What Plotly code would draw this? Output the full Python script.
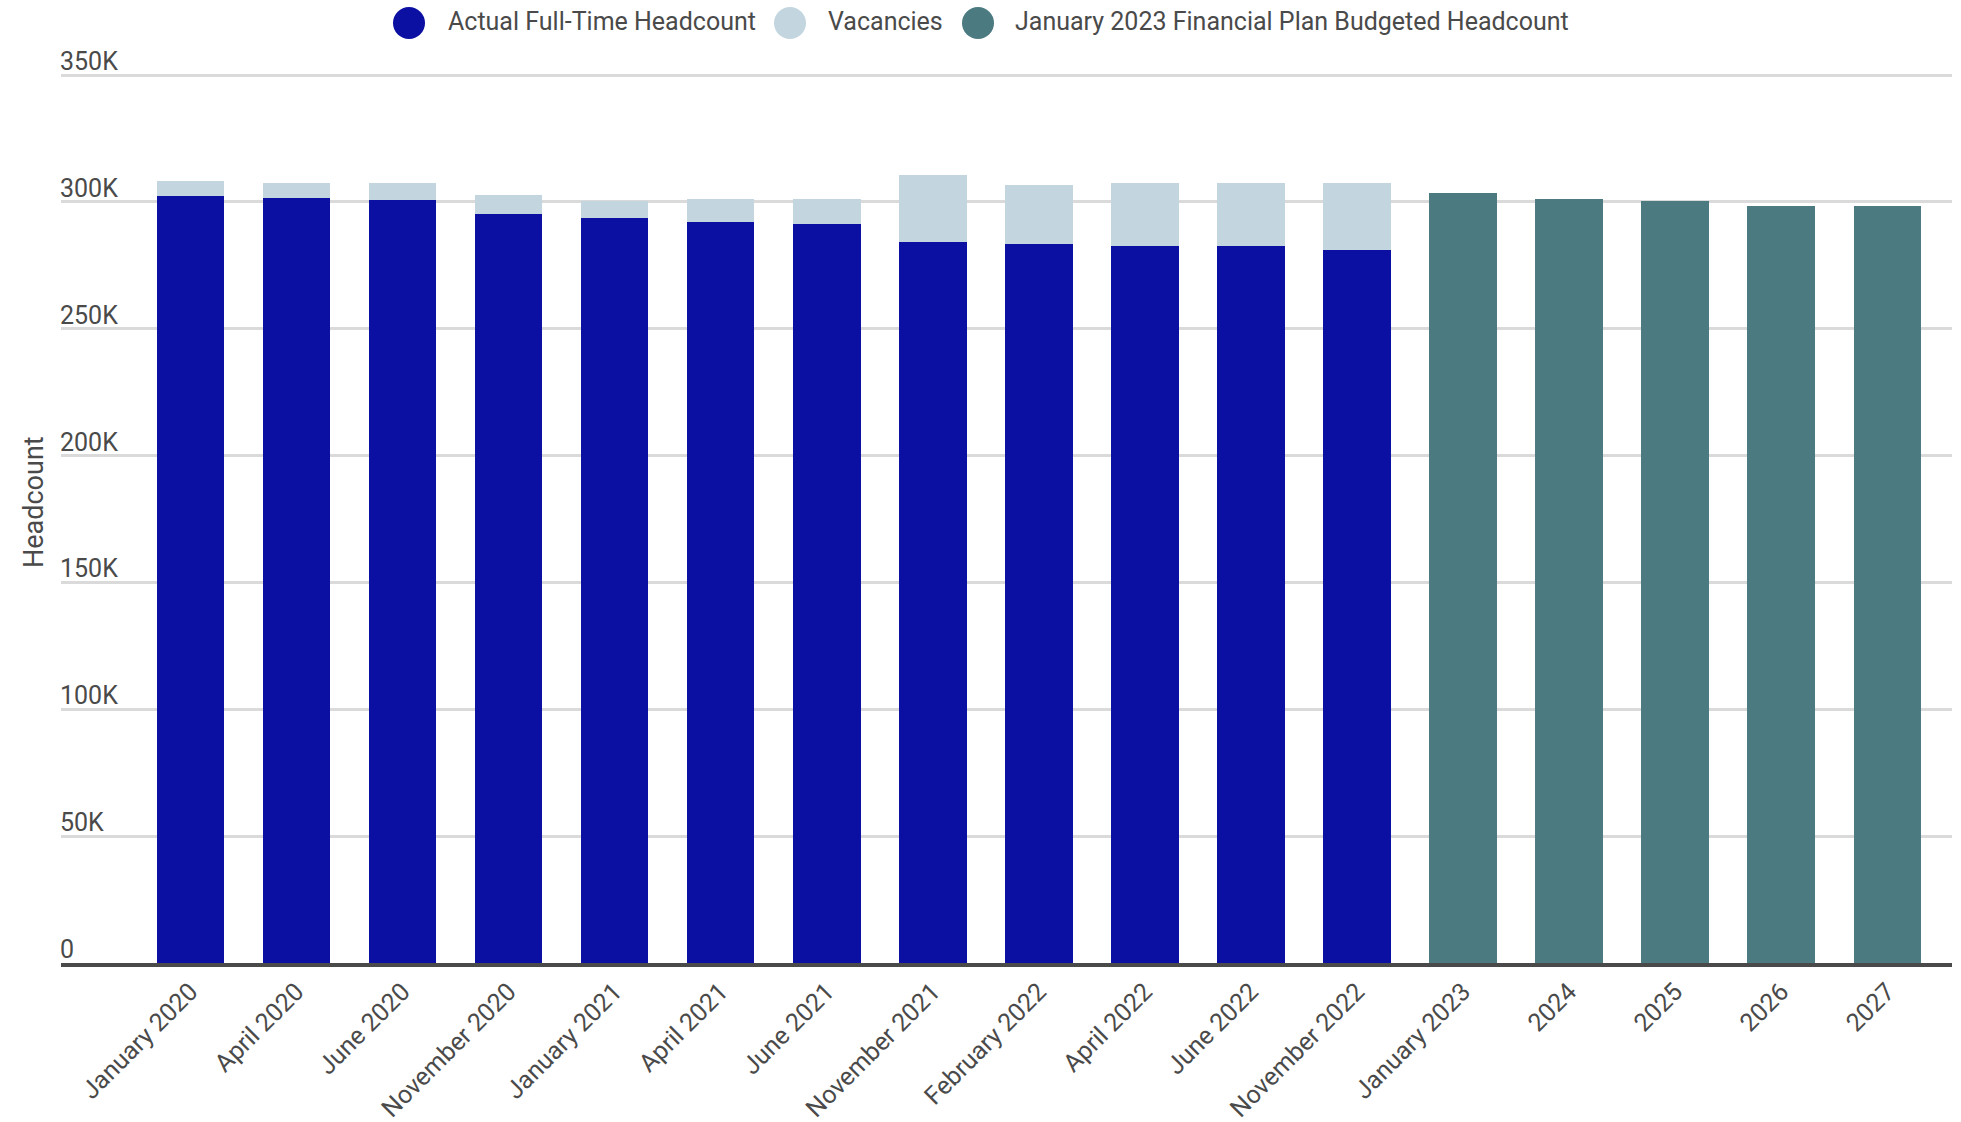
import plotly.graph_objects as go

# ---- data -------------------------------------------------------------
actual_periods = [
    "January 2020", "April 2020", "June 2020", "November 2020",
    "January 2021", "April 2021", "June 2021", "November 2021",
    "February 2022", "April 2022", "June 2022", "November 2022",
]
actual_headcount = [
    302500, 301700, 300900, 295400,
    293800, 292200, 291400, 284300,
    283500, 282700, 282700, 281100,
]
vacancies = [
    5900, 5900, 6700, 7500,
    6700, 9100, 9900, 26400,
    23300, 24900, 24900, 26500,
]
budget_periods = ["January 2023", "2024", "2025", "2026", "2027"]
budget_headcount = [303700, 301300, 300500, 298200, 298200]

y_tick_values = [0, 50000, 100000, 150000, 200000, 250000, 300000, 350000]
y_tick_labels = ["0", "50K", "100K", "150K", "200K", "250K", "300K", "350K"]

series_names = [
    "Actual Full-Time Headcount",
    "Vacancies",
    "January 2023 Financial Plan Budgeted Headcount",
]

# ---- styling ----------------------------------------------------------
C_ACTUAL = "#0b10a3"
C_VACANCY = "#c3d6df"
C_BUDGET = "#4b7a80"
TEXT = "#4a4a4a"
FONT = "Roboto"

W, H = 1961, 1122
M_L, M_R, M_T, M_B = 61, 9, 70, 159
PLOT_W = W - M_L - M_R
PLOT_H = H - M_T - M_B


def px_x(px):
    return (px - M_L) / PLOT_W


def px_y(py):
    return (H - M_B - py) / PLOT_H


fig = go.Figure()
fig.add_trace(go.Bar(x=actual_periods, y=actual_headcount, name=series_names[0],
                     marker=dict(color=C_ACTUAL, line=dict(width=0)), showlegend=False))
fig.add_trace(go.Bar(x=actual_periods, y=vacancies, name=series_names[1],
                     marker=dict(color=C_VACANCY, line=dict(width=0)), showlegend=False))
fig.add_trace(go.Bar(x=budget_periods, y=budget_headcount, name=series_names[2],
                     marker=dict(color=C_BUDGET, line=dict(width=0)), showlegend=False))

# ---- custom legend with large round swatches --------------------------
legend_items = [
    (409, 446, C_ACTUAL, series_names[0]),
    (790, 826, C_VACANCY, series_names[1]),
    (978, 1013, C_BUDGET, series_names[2]),
]
shapes = []
annotations = []
for cx, tx, col, label in legend_items:
    shapes.append(dict(type="circle", xref="paper", yref="paper",
                       xsizemode="pixel", ysizemode="pixel",
                       xanchor=px_x(cx), yanchor=px_y(23),
                       x0=-16, x1=16, y0=-16, y1=16,
                       fillcolor=col, line=dict(width=0)))
    annotations.append(dict(xref="paper", yref="paper", x=px_x(tx), y=px_y(22),
                            xanchor="left", yanchor="middle", showarrow=False,
                            text=label, font=dict(family=FONT, size=25, color=TEXT)))

# y tick labels sit on top of their gridlines, inside the plot
for val, lab in zip(y_tick_values, y_tick_labels):
    annotations.append(dict(xref="paper", yref="y", x=0, y=val,
                            xanchor="left", yanchor="bottom", showarrow=False,
                            xshift=-2, yshift=-2, borderpad=0,
                            text=lab, font=dict(family=FONT, size=25, color=TEXT)))

annotations.append(dict(xref="paper", yref="paper", x=px_x(34), y=px_y(502),
                        xanchor="center", yanchor="middle", showarrow=False,
                        textangle=-90, text="Headcount",
                        font=dict(family=FONT, size=27, color=TEXT)))

fig.update_layout(
    width=W, height=H,
    margin=dict(l=M_L, r=M_R, t=M_T, b=M_B, pad=0, autoexpand=False),
    paper_bgcolor="white", plot_bgcolor="white",
    barmode="stack", bargap=0.363,
    font=dict(family=FONT, color=TEXT),
    shapes=shapes, annotations=annotations,
    xaxis=dict(
        type="category",
        categoryorder="array",
        categoryarray=actual_periods + budget_periods,
        range=[-1.22, 16.61],
        tickangle=-45,
        tickfont=dict(family=FONT, size=25, color=TEXT),
        automargin=False,
        showgrid=False, ticks="",
        showline=True, linecolor="#4a4a4a", linewidth=4,
    ),
    yaxis=dict(
        range=[0, 352000],
        tickvals=y_tick_values,
        showticklabels=False,
        automargin=False,
        showgrid=True, gridcolor="#dadada", gridwidth=3,
        zeroline=False, ticks="",
    ),
)

fig.write_html("out.html")
